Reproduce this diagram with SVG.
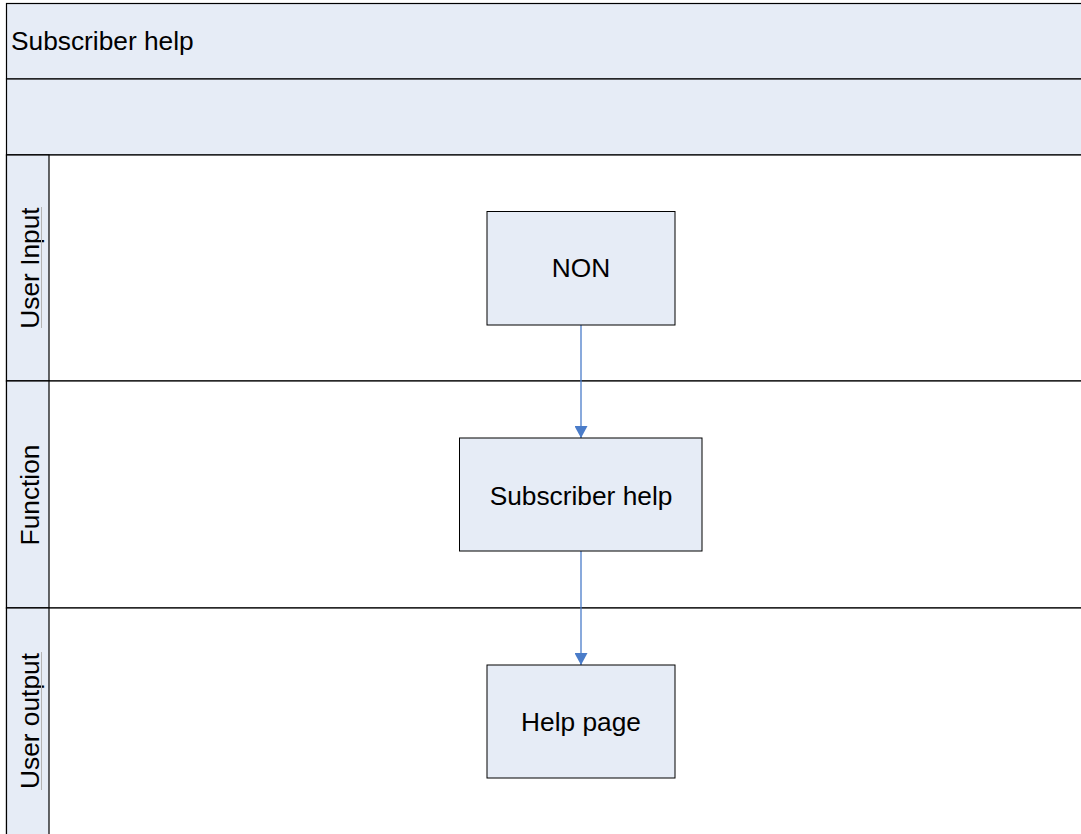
<svg xmlns="http://www.w3.org/2000/svg" width="1081" height="834" viewBox="0 0 1081 834">
<style>
.hdr{fill:#e6ecf6;stroke:#000;stroke-width:1.2}
.lbl{fill:#e6ecf6;stroke:#000;stroke-width:1.2}
.body{fill:#fff;stroke:#000;stroke-width:1.2}
.box{fill:#e6ecf6;stroke:#000;stroke-width:1}
.t{font-family:"Liberation Sans",Arial,sans-serif;font-size:26.3px;fill:#000}
.conn{stroke:#4a7cc9;stroke-width:1.3;fill:none}
.ul{stroke:#b4b4b4;stroke-width:1}
</style>
<defs>
<marker id="ah" viewBox="0 0 12 13" refX="12" refY="6.5" markerWidth="12" markerHeight="13" markerUnits="userSpaceOnUse" orient="auto">
<path d="M0,0 L12,6.5 L0,13 Z" fill="#4a7cc9"/>
</marker>
</defs>
<g id="pool">
<rect class="hdr" x="6.5" y="3.5" width="1080" height="75.5"/>
<text class="t" x="11" y="50">Subscriber help</text>
<rect class="hdr" x="6.5" y="79" width="1080" height="76"/>
</g>
<g id="lane-input">
<rect class="body" x="6.5" y="155" width="1080" height="226"/>
<rect class="lbl" x="6.5" y="155" width="42.5" height="226"/>
<text class="t" transform="translate(38.5,268) rotate(-90)" text-anchor="middle">User Input</text>
<line class="ul" x1="41.5" y1="207" x2="41.5" y2="328"/>
</g>
<g id="lane-function">
<rect class="body" x="6.5" y="381" width="1080" height="227"/>
<rect class="lbl" x="6.5" y="381" width="42.5" height="227"/>
<text class="t" transform="translate(38.5,495) rotate(-90)" text-anchor="middle">Function</text>
</g>
<g id="lane-output">
<rect class="body" x="6.5" y="608" width="1080" height="240"/>
<rect class="lbl" x="6.5" y="608" width="42.5" height="240"/>
<text class="t" transform="translate(38.5,721) rotate(-90)" text-anchor="middle">User output</text>
<line class="ul" x1="41.5" y1="652" x2="41.5" y2="790"/>
</g>
<g id="connectors">
<line class="conn" x1="581" y1="325" x2="581" y2="438" marker-end="url(#ah)"/>
<line class="conn" x1="581" y1="551" x2="581" y2="665" marker-end="url(#ah)"/>
</g>
<g id="node-non">
<rect class="box" x="487" y="211.5" width="188" height="113.5"/>
<text class="t" x="581" y="276.5" text-anchor="middle">NON</text>
</g>
<g id="node-help">
<rect class="box" x="459.5" y="438" width="242.5" height="113"/>
<text class="t" x="581" y="505" text-anchor="middle">Subscriber help</text>
</g>
<g id="node-page">
<rect class="box" x="487" y="665" width="188" height="113"/>
<text class="t" x="581" y="731" text-anchor="middle">Help page</text>
</g>
</svg>
